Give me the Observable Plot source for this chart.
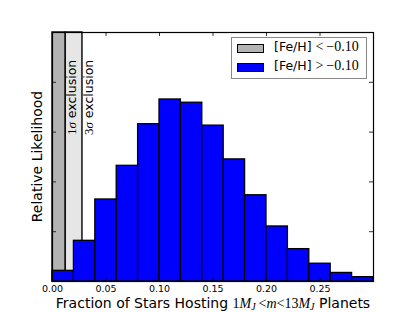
<!DOCTYPE html>
<html><head><meta charset="utf-8">
<script src="https://cdn.jsdelivr.net/npm/d3@7"></script>
<script src="https://cdn.jsdelivr.net/npm/@observablehq/plot@0.6"></script>
<style>
body{margin:0;background:#fff;}
#wrap{position:relative;width:415px;height:312px;overflow:hidden;}
#legend{position:absolute;left:231px;top:37px;width:136px;height:42px;border:1px solid #888;background:#fff;box-sizing:border-box;}
.row{position:absolute;left:5px;height:10px;}
.sw{position:absolute;left:0;top:0;width:27px;height:9px;border:1px solid #000;box-sizing:border-box;}
.lt{position:absolute;left:37px;top:-5px;white-space:nowrap;font-family:"DejaVu Sans";font-size:12.5px;}
.m{font-family:"Liberation Serif";font-size:14px;}
</style></head><body><div id="wrap"></div>
<script>
// Histogram bins (fraction of stars hosting planets) and relative likelihood
const binLo = [0.00,0.02,0.04,0.06,0.08,0.10,0.12,0.14,0.16,0.18,0.20,0.22,0.24,0.26,0.28];
const binHi = [0.02,0.04,0.06,0.08,0.10,0.12,0.14,0.16,0.18,0.20,0.22,0.24,0.26,0.28,0.30];
const likelihood = [0.214,0.817,1.647,2.323,3.159,3.655,3.590,3.130,2.452,1.732,1.105,0.650,0.357,0.172,0.087];
// Exclusion regions ([Fe/H] < -0.10 constraint)
const exclusionLo = [0.0, 0.0124];
const exclusionHi = [0.0124, 0.028];
const exclusionSigma = ["1", "3"];
const xTicks = [0.00,0.05,0.10,0.15,0.20,0.25];
const yTicks = [1,2,3,4];
const legendOps = ["<", ">"];
const legendValue = "\u22120.10";

const W=415,H=312,mL=52,mR=42,mT=32,mB=31;
const innerW=W-mL-mR, innerH=H-mT-mB;
const grays=["#b3b3b3","#e6e6e6"];
const bars = binLo.map((lo,i)=>({lo,hi:binHi[i],v:likelihood[i]}));
const excl = exclusionLo.map((lo,i)=>({lo,hi:exclusionHi[i],k:i}));

const chart = Plot.plot({
  width:W,height:H,marginLeft:mL,marginRight:mR,marginTop:mT,marginBottom:mB,
  style:{fontFamily:"DejaVu Sans",background:"white",color:"black"},
  x:{domain:[0,0.30],label:null},
  y:{domain:[0,5],axis:null,label:null},
  marks:[
    Plot.rect(excl,{x1:"lo",x2:"hi",fill:d=>grays[d.k],stroke:"#111",strokeWidth:1.5}),
    Plot.rectY(bars,{x1:"lo",x2:"hi",y:"v",fill:"#0000ff",stroke:"black",strokeWidth:1.3}),
    Plot.tickX(xTicks,{x:d=>d,insetTop:innerH-4,stroke:"black",strokeWidth:0.8}),
    Plot.tickX(xTicks,{x:d=>d,insetBottom:innerH-4,stroke:"black",strokeWidth:0.8}),
    Plot.tickY(yTicks,{y:d=>d,insetRight:innerW-4,stroke:"black",strokeWidth:0.8}),
    Plot.tickY(yTicks,{y:d=>d,insetLeft:innerW-4,stroke:"black",strokeWidth:0.8}),
    Plot.axisX(xTicks,{tickSize:0,tickPadding:4,tickFormat:d3.format(".2f"),fontSize:9.5,label:null}),
    Plot.frame({stroke:"black",strokeWidth:1.2})
  ]
});
document.getElementById("wrap").appendChild(chart);
const svg = d3.select(chart);
const xs = chart.scale("x"), ys = chart.scale("y");

// y label
svg.append("text").attr("transform",`translate(41.5,${mT+innerH/2}) rotate(-90)`)
  .attr("text-anchor","middle").attr("font-family","DejaVu Sans").attr("font-size",14)
  .attr("fill","black").text("Relative Likelihood");

// x label with math
const xl = svg.append("text").attr("x",mL+innerW/2+0.5).attr("y",307.5).attr("text-anchor","middle")
  .attr("font-family","DejaVu Sans").attr("font-size",14).attr("fill","black");
xl.append("tspan").text("Fraction of Stars Hosting ");
const ms = (t,it)=>xl.append("tspan").attr("font-family","Liberation Serif").attr("font-size",14).attr("font-style",it?"italic":"normal").text(t);
ms("1",false); ms("M",true);
xl.append("tspan").attr("font-family","Liberation Serif").attr("font-style","italic").attr("font-size",10).attr("dy",2.5).text("J");
xl.append("tspan").attr("font-family","Liberation Serif").attr("font-size",14).attr("dy",-2.5).text("\u2009<");
ms("m",true); ms("<13",false); ms("M",true);
xl.append("tspan").attr("font-family","Liberation Serif").attr("font-style","italic").attr("font-size",10).attr("dy",2.5).text("J");
xl.append("tspan").attr("dy",-2.5).text(" Planets");

// exclusion labels
const labelY = 2.93;
exclusionHi.forEach((hi,i)=>{
  const t = svg.append("text").attr("transform",`translate(${xs.apply(hi)+11},${ys.apply(labelY)}) rotate(-90)`)
    .attr("text-anchor","start")
    .attr("font-family","DejaVu Sans").attr("font-size",12.5).attr("fill","black");
  t.append("tspan").attr("font-family","Liberation Serif").attr("font-size",13).text(exclusionSigma[i]);
  t.append("tspan").attr("font-family","Liberation Serif").attr("font-style","italic").attr("font-size",13).text("\u03c3");
  t.append("tspan").text(" exclusion");
});

// legend
const lg = document.createElement("div"); lg.id="legend";
legendOps.forEach((op,i)=>{
  const r=document.createElement("div"); r.className="row"; r.style.top=(i===0?6:25)+"px";
  r.innerHTML=`<div class="sw" style="background:${i===0?"#b3b3b3":"#0000ff"}"></div><div class="lt">[Fe/H] <span class="m">${op==="<"?"&lt;":"&gt;"}\u2009${legendValue}</span></div>`;
  lg.appendChild(r);
});
document.getElementById("wrap").appendChild(lg);
</script></body></html>
